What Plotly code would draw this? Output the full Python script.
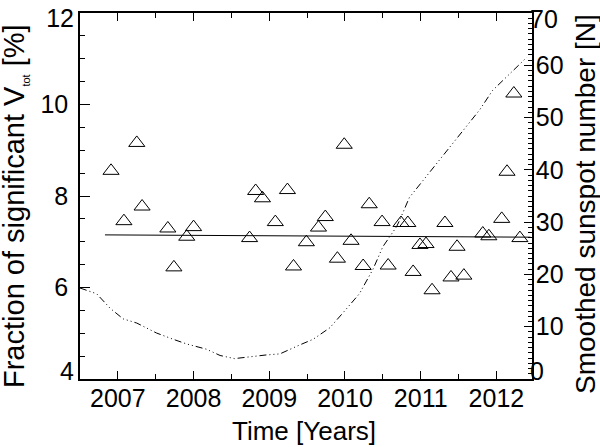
import plotly.graph_objects as go

# ── Data ───────────────────────────────────────────────────────────────────────
obs_time = [2006.91, 2007.08, 2007.25, 2007.32, 2007.66, 2007.74, 2007.91, 2008.00,
            2008.74, 2008.82, 2008.91, 2009.08, 2009.24, 2009.32, 2009.49, 2009.65,
            2009.74, 2009.90, 2009.99, 2010.08, 2010.24, 2010.32, 2010.49, 2010.57,
            2010.74, 2010.83, 2010.90, 2010.99, 2011.07, 2011.15, 2011.32, 2011.40,
            2011.48, 2011.57, 2011.82, 2011.90, 2012.07, 2012.14, 2012.23, 2012.31]
frac_vtot = [8.55, 7.45, 9.16, 7.77, 7.29, 6.44, 7.11, 7.32,
             7.08, 8.11, 7.95, 7.43, 8.13, 6.46, 6.99, 7.31,
             7.54, 6.63, 9.12, 7.02, 6.47, 7.82, 7.43, 6.48,
             7.41, 7.41, 6.34, 6.93, 6.95, 5.94, 7.41, 6.22,
             6.89, 6.26, 7.18, 7.12, 7.50, 8.53, 10.24, 7.08]

fit_time = [2006.83, 2012.45]
fit_frac = [7.15, 7.10]

ssn_time = [2006.50, 2006.72, 2006.90, 2007.07, 2007.25, 2007.51, 2007.73, 2007.91,
            2008.17, 2008.35, 2008.54, 2008.74, 2008.96, 2009.14, 2009.31, 2009.40,
            2009.58, 2009.80, 2009.97, 2010.19, 2010.37, 2010.50, 2010.68, 2010.72,
            2010.85, 2011.16, 2011.47, 2011.78, 2011.95, 2012.13, 2012.30, 2012.40]
ssn_smoothed = [17.4, 16.3, 13.5, 11.5, 10.7, 8.8, 7.6, 6.7,
                5.7, 4.5, 3.9, 4.3, 4.6, 4.8, 6.0, 6.5,
                7.6, 9.8, 12.6, 16.3, 21.0, 25.3, 29.1, 30.3,
                34.7, 40.3, 45.9, 51.5, 55.2, 57.7, 60.2, 61.5]

# tick labels; the end labels sit nudged inside the frame, as in the original
frac_ticks = [4, 6, 8, 10, 12]
frac_ticktext = ["", "6", "8", "10", ""]
frac_end_pos = [4.17, 11.88]
frac_end_text = ["4", "12"]
ssn_ticks = [0, 10, 20, 30, 40, 50, 60, 70]
ssn_ticktext = ["", "10", "20", "30", "40", "50", "60", ""]
ssn_end_pos = [1.5, 68.9]
ssn_end_text = ["0", "70"]

# ── Style ──────────────────────────────────────────────────────────────────────
FONT = "Liberation Sans, Arial, Helvetica, sans-serif"
INK = "#000000"
TICK_SIZE = 25

fig = go.Figure()

fig.add_trace(go.Scatter(
    x=ssn_time, y=ssn_smoothed, yaxis="y2", mode="lines",
    line=dict(color=INK, width=1, dash="7px,3px,1px,3px,1px,3px,1px,3px"),
))
fig.add_trace(go.Scatter(
    x=fit_time, y=fit_frac, mode="lines",
    line=dict(color=INK, width=1),
))
fig.add_trace(go.Scatter(
    x=obs_time, y=frac_vtot, mode="markers",
    marker=dict(symbol="triangle-up-open", size=14, color=INK, line=dict(width=1, color=INK)),
))
# empty traces so the helper label axes get drawn
fig.add_trace(go.Scatter(x=[], y=[], yaxis="y3", mode="markers"))
fig.add_trace(go.Scatter(x=[], y=[], yaxis="y4", mode="markers"))

axis_common = dict(
    showgrid=False, zeroline=False, showline=True, linecolor=INK, linewidth=1.5,
    ticks="inside", tickcolor=INK, tickwidth=1, ticklabeloverflow="allow",
    tickfont=dict(family=FONT, size=TICK_SIZE, color=INK),
)
label_only = dict(
    showgrid=False, zeroline=False, showline=False, ticks="",
    ticklabeloverflow="allow", tickmode="array",
    tickfont=dict(family=FONT, size=TICK_SIZE, color=INK),
)

fig.update_layout(
    width=600, height=447,
    paper_bgcolor="white", plot_bgcolor="white",
    showlegend=False,
    font=dict(family=FONT, color=INK),
    margin=dict(l=80, r=68, t=4, b=68),
    xaxis=dict(
        **axis_common,
        range=[2006.5, 2012.47], tick0=2007, dtick=1, tickformat="d",
        ticklen=8, mirror="ticks",
        minor=dict(dtick=0.5, tick0=2006.5, ticks="inside", ticklen=5, tickcolor=INK),
        ticklabelstandoff=-4,
    ),
    yaxis=dict(
        **axis_common,
        range=[4, 12], tickmode="array", tickvals=frac_ticks, ticktext=frac_ticktext,
        ticklen=10,
        minor=dict(dtick=0.5, ticks="inside", ticklen=5, tickcolor=INK),
        ticklabelstandoff=5,
    ),
    yaxis2=dict(
        **axis_common,
        overlaying="y", side="right",
        range=[0, 70], tickmode="array", tickvals=ssn_ticks, ticktext=ssn_ticktext,
        ticklen=8,
        minor=dict(dtick=1, ticks="inside", ticklen=4, tickcolor=INK),
        ticklabelstandoff=-3,
    ),
    yaxis3=dict(
        **label_only, overlaying="y", side="left", anchor="x",
        range=[4, 12], tickvals=frac_end_pos, ticktext=frac_end_text,
        ticklabelstandoff=5,
    ),
    yaxis4=dict(
        **label_only, overlaying="y", side="right", anchor="x",
        range=[0, 70], tickvals=ssn_end_pos, ticktext=ssn_end_text,
        ticklabelstandoff=-3,
    ),
)

# axis titles as free annotations so they can sit right at the page edges
fig.add_annotation(
    text="Time [Years]", xref="paper", yref="paper", x=0.5, y=0,
    xanchor="center", yanchor="middle", xshift=-2, yshift=-52,
    showarrow=False, font=dict(size=26, color=INK),
)
fig.add_annotation(
    text='Fraction of significant V<sub><span style="font-size:11px">tot</span></sub> [%]',
    xref="paper", yref="paper", x=0, y=0.5, textangle=-90,
    xanchor="center", yanchor="middle", xshift=-65, yshift=-10,
    showarrow=False, font=dict(size=29, color=INK),
)
fig.add_annotation(
    text="Smoothed sunspot number [N]",
    xref="paper", yref="paper", x=1, y=0.5, textangle=-90,
    xanchor="center", yanchor="middle", xshift=53, yshift=-8,
    showarrow=False, font=dict(size=28, color=INK),
)

# the page body has a default 8px margin; drop it so the figure fills the window
fig.write_html("out.html", config={"displayModeBar": False},
               post_script="document.body.style.margin = '0px';")
